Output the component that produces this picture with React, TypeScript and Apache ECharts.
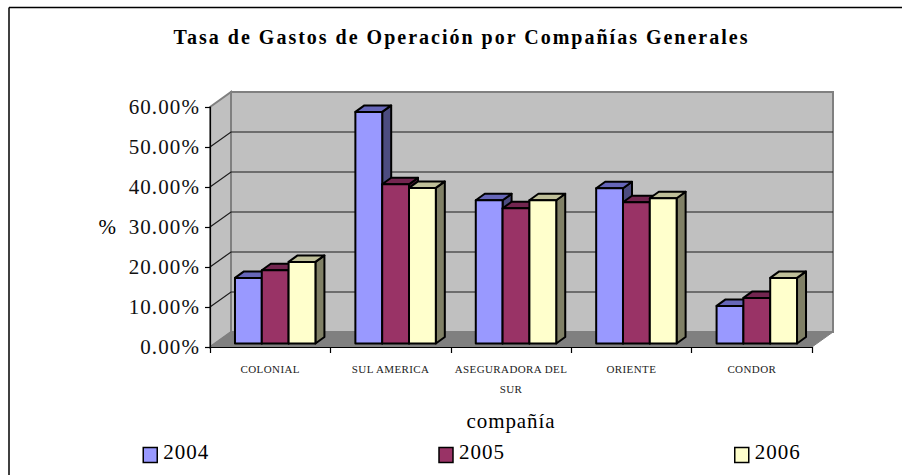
import React, { useEffect, useRef } from "react";
import * as echarts from "echarts";

const categories = ["COLONIAL", "SUL AMERICA", "ASEGURADORA DEL\nSUR", "ORIENTE", "CONDOR"];
const years = ["2004", "2005", "2006"];
const values2004 = [16.4, 57.9, 35.8, 38.8, 9.4];
const values2005 = [18.3, 39.8, 33.8, 35.3, 11.4];
const values2006 = [20.4, 38.9, 35.8, 36.3, 16.4];
const yTicks = [0, 10, 20, 30, 40, 50, 60];
const titleText = "Tasa de Gastos de Operación por Compañías Generales";

const faces = [
  { front: "#9999FF", top: "#6666B8", side: "#4C4C80" },
  { front: "#993366", top: "#732650", side: "#4D1A33" },
  { front: "#FFFFCC", top: "#BFBF99", side: "#808066" },
];
const seriesValues = [values2004, values2005, values2006];

const DX = 21, DY = -15;      // depth of the floor
const BDX = 9, BDY = -6.5;    // depth of a bar
const INX = 5, INY = -3.5;    // bar offset from front of floor
const BAR_RATIO = 0.2227;
const SERIF = "'Liberation Serif','Times New Roman',serif";

function wallItem(params: any, api: any) {
  const cs = params.coordSys;
  const tick = api.value(1);
  const y = api.coord([0, tick])[1];
  const xl = cs.x, xr = cs.x + cs.width;
  const isTop = tick === yTicks[yTicks.length - 1];
  const children: any[] = [];
  if (params.dataIndex === 0) {
    const yb = y, yt = cs.y;
    children.push(
      { type: "polygon", shape: { points: [[xl + DX, yt + DY], [xr + DX, yt + DY], [xr + DX, yb + DY], [xl + DX, yb + DY]] }, style: { fill: "#C0C0C0", stroke: "#808080", lineWidth: 2 } },
      { type: "polygon", shape: { points: [[xl, yt], [xl + DX, yt + DY], [xl + DX, yb + DY], [xl, yb]] }, style: { fill: "#C0C0C0", stroke: "#808080", lineWidth: 2 } },
      { type: "polygon", shape: { points: [[xl, yb], [xl + DX, yb + DY], [xr + DX, yb + DY], [xr, yb]] }, style: { fill: "#808080", stroke: "#808080", lineWidth: 1 } },
    );
  } else if (!isTop) {
    children.push({
      type: "polyline",
      shape: { points: [[xl, y], [xl + DX, y + DY], [xr + DX, y + DY]] },
      style: { fill: "none", stroke: "#1a1a1a", lineWidth: 1.2 },
    });
  }
  return { type: "group", children };
}

function barItem(seriesIdx: number) {
  return (_params: any, api: any) => {
    const idx = api.value(0);
    const top = api.coord([idx, api.value(1)]);
    const base = api.coord([idx, 0]);
    const w = api.size([1, 0])[0] * BAR_RATIO;
    const x0 = top[0] + INX + (seriesIdx - 1.5) * w;
    const x1 = x0 + w;
    const yt = top[1] + INY, yb = base[1] + INY;
    const f = faces[seriesIdx];
    const line = { stroke: "#000", lineWidth: 2, lineJoin: "round" };
    return {
      type: "group",
      children: [
        { type: "polygon", shape: { points: [[x1, yb], [x1 + BDX, yb + BDY], [x1 + BDX, yt + BDY], [x1, yt]] }, style: { fill: f.side, ...line } },
        { type: "polygon", shape: { points: [[x0, yt], [x0 + BDX, yt + BDY], [x1 + BDX, yt + BDY], [x1, yt]] }, style: { fill: f.top, ...line } },
        { type: "polygon", shape: { points: [[x0, yb], [x1, yb], [x1, yt], [x0, yt]] }, style: { fill: f.front, ...line } },
      ],
    };
  };
}

export default function App() {
  const ref = useRef<HTMLDivElement>(null);
  useEffect(() => {
    document.body.style.margin = "0";
    const chart = echarts.init(ref.current!, null, { renderer: "svg" });
    chart.setOption({
      animation: false,
      backgroundColor: "#fff",
      textStyle: { fontFamily: SERIF },
      title: {
        text: titleText, left: 456.5, top: 22, textAlign: "center",
        textStyle: { fontFamily: SERIF, fontSize: 20, fontWeight: "bold", color: "#000" },
      },
      legend: {
        data: years, left: 137.5, top: 439.5, itemWidth: 14, itemHeight: 15, itemGap: 233,
        icon: "rect", selectedMode: false,
        itemStyle: { borderColor: "#000", borderWidth: 1.5 },
        textStyle: { fontFamily: SERIF, fontSize: 21, color: "#000", padding: [0, 0, 14, 1] },
      },
      grid: { left: 210, right: 90, top: 107, height: 240, containLabel: false },
      xAxis: {
        type: "category", data: categories,
        name: "compañía", nameLocation: "middle", nameGap: 63,
        nameTextStyle: { fontFamily: SERIF, fontSize: 21, color: "#000" },
        axisLine: { show: true, lineStyle: { color: "#000", width: 1.2 } },
        axisTick: { show: true, alignWithLabel: false, length: 6, lineStyle: { color: "#000", width: 1.2 } },
        axisLabel: { fontFamily: SERIF, fontSize: 11, color: "#222", lineHeight: 20, margin: 12, interval: 0 },
        splitLine: { show: false },
      },
      yAxis: {
        type: "value", min: 0, max: 60, interval: 10,
        name: "%", nameLocation: "middle", nameRotate: 0, nameGap: 93,
        nameTextStyle: { fontFamily: SERIF, fontSize: 21, color: "#000" },
        axisLine: { show: true, lineStyle: { color: "#000", width: 1.2 } },
        axisTick: { show: true, length: 5, lineStyle: { color: "#000", width: 1.2 } },
        axisLabel: { fontFamily: SERIF, fontSize: 21, color: "#111", margin: 10, formatter: (v: number) => v.toFixed(2) + "%" },
        splitLine: { show: false },
      },
      graphic: [
        { type: "line", shape: { x1: 9, y1: 7.5, x2: 902, y2: 7.5 }, style: { stroke: "#000", lineWidth: 1.5 } },
        { type: "line", shape: { x1: 9, y1: 7.5, x2: 9, y2: 475 }, style: { stroke: "#000", lineWidth: 1.5 } },
      ],
      series: [
        { type: "custom", name: "wall", z: 0, renderItem: wallItem, data: yTicks.map((t) => [0, t]), encode: { x: 0, y: 1 }, silent: true },
        ...years.map((y, i) => ({
          type: "custom", name: y, z: 2 + i, renderItem: barItem(i),
          itemStyle: { color: faces[i].front },
          data: seriesValues[i].map((v, k) => [k, v]), encode: { x: 0, y: 1 },
        })),
      ],
    });
    const spacing = (t: string) => {
      if (t === titleText) return "2px";
      if (/%$/.test(t)) return "1.1px";
      if (/^20\d\d$/.test(t)) return "1px";
      if (t === "compañía") return "0.9px";
      if (t === "%") return "0px";
      return "0.4px";
    };
    ref.current!.querySelectorAll("text").forEach((el) => {
      const t = el.textContent || "";
      (el as SVGTextElement).style.letterSpacing = spacing(t);
      if (years.includes(t)) el.setAttribute("dy", "-3");
    });
    return () => chart.dispose();
  }, []);
  return <div ref={ref} style={{ position: "fixed", left: 0, top: 0, width: 902, height: 475 }} />;
}
